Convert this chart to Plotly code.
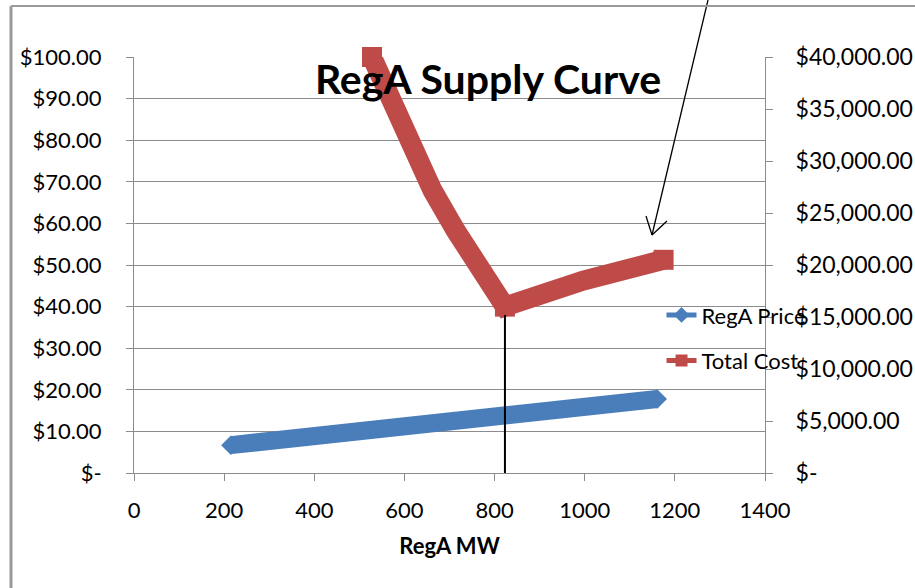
import plotly.graph_objects as go

# ---- data ----
price_mw = [215, 500, 812, 1161]
price_val = [6.7, 10.1, 13.9, 17.8]

cost_mw = [528, 562, 606, 662, 714, 775, 823, 997, 1175]
cost_val = [40000, 36500, 32000, 27200, 23300, 19250, 16000, 18500, 20500]

x_ticks = [0, 200, 400, 600, 800, 1000, 1200, 1400]
left_ticks = [0, 10, 20, 30, 40, 50, 60, 70, 80, 90, 100]
left_labels = ["$-", "$10.00", "$20.00", "$30.00", "$40.00", "$50.00",
               "$60.00", "$70.00", "$80.00", "$90.00", "$100.00"]
right_ticks = [0, 5000, 10000, 15000, 20000, 25000, 30000, 35000, 40000]
right_labels = ["$-", "$5,000.00", "$10,000.00", "$15,000.00", "$20,000.00",
                "$25,000.00", "$30,000.00", "$35,000.00", "$40,000.00"]

title_text = "RegA Supply Curve"
x_title = "RegA MW"
marked_mw = 823          # vertical marker line

BLUE = "#4A7EBB"
RED = "#BE4B48"
GRID = "#8C8C8C"
FONT = "Lato"

W, H = 915, 588
L, R, T, B = 134, 150, 57, 115

# markers only where the reference shows their shape (ends / corner)
price_sizes = [15 if i in (0, len(price_mw) - 1) else 0 for i in range(len(price_mw))]
min_i = cost_val.index(min(cost_val))
cost_sizes = [20 if i in (0, min_i, len(cost_mw) - 1) else 0 for i in range(len(cost_mw))]

fig = go.Figure()
fig.add_trace(go.Scatter(
    x=price_mw, y=price_val, name="RegA Price", mode="lines+markers",
    line=dict(color=BLUE, width=18),
    marker=dict(symbol="diamond", size=price_sizes, color=BLUE, opacity=1,
                line=dict(width=0)),
    cliponaxis=False, legendgroup="a", yaxis="y"))
fig.add_trace(go.Scatter(
    x=cost_mw, y=cost_val, name="Total Cost", mode="lines+markers",
    line=dict(color=RED, width=20),
    marker=dict(symbol="square", size=cost_sizes, color=RED, opacity=1,
                line=dict(width=0)),
    cliponaxis=False, legendgroup="b", yaxis="y2"))

axis_common = dict(showline=True, linecolor=GRID, linewidth=1,
                   ticks="outside", ticklen=7, tickcolor=GRID,
                   zeroline=False, automargin=False)
tick_font = dict(family=FONT, size=22, color="#000")

fig.update_layout(
    width=W, height=H,
    margin=dict(l=L, r=R, t=T, b=B, autoexpand=False),
    paper_bgcolor="white", plot_bgcolor="white",
    showlegend=True,
    legend=dict(x=0.836, y=0.43, xanchor="left", yanchor="top",
                bgcolor="rgba(0,0,0,0)", tracegroupgap=14,
                traceorder="grouped", itemsizing="constant",
                font=dict(family=FONT, size=22, color="#000")),
    title=dict(text="<b>%s</b>" % title_text, x=488 / W, y=1 - 80 / H,
               xref="container", yref="container",
               xanchor="center", yanchor="middle",
               font=dict(family=FONT, size=41, color="#000")),
    xaxis=dict(range=[0, 1400], tickvals=x_ticks, showgrid=False,
               ticklabelstandoff=11, tickfont=tick_font,
               title=dict(text="<b>%s</b>" % x_title, standoff=16,
                          font=dict(family=FONT, size=22, color="#000")),
               **axis_common),
    yaxis=dict(range=[0, 100], tickvals=left_ticks, ticktext=left_labels,
               showgrid=True, gridcolor=GRID, gridwidth=1,
               ticklabelstandoff=20, tickfont=tick_font, **axis_common),
    yaxis2=dict(range=[0, 40000], tickvals=right_ticks, ticktext=right_labels,
                overlaying="y", side="right", showgrid=False,
                ticklabelstandoff=18,
                tickfont=dict(family=FONT, size=23, color="#000"),
                **axis_common),
)

# vertical marker line at the cost minimum
fig.add_shape(type="line", xref="x", yref="y", x0=marked_mw, x1=marked_mw,
              y0=-1.2, y1=38, line=dict(color="black", width=2))

def px_x(px):
    return (px - L) / (W - L - R)

def px_y(py):
    return (H - B - py) / (H - T - B)

# hand-drawn arrow pointing at the end of the cost curve
arrow_pts = [((708, 0), (652, 235)), ((652, 235), (646, 216)),
             ((652, 235), (667, 221))]
for (xa, ya), (xb, yb) in arrow_pts:
    fig.add_shape(type="line", xref="paper", yref="paper",
                  x0=px_x(xa), y0=px_y(ya), x1=px_x(xb), y1=px_y(yb),
                  line=dict(color="black", width=1.3))

# outer frame of the screenshot
fig.add_shape(type="line", xref="paper", yref="paper",
              x0=px_x(11), x1=px_x(11), y0=px_y(6), y1=px_y(588),
              line=dict(color="#9A9A9A", width=3))
fig.add_shape(type="line", xref="paper", yref="paper",
              x0=px_x(11), x1=px_x(915), y0=px_y(6), y1=px_y(6),
              line=dict(color="#9A9A9A", width=2))

fig.write_html("out.html")
